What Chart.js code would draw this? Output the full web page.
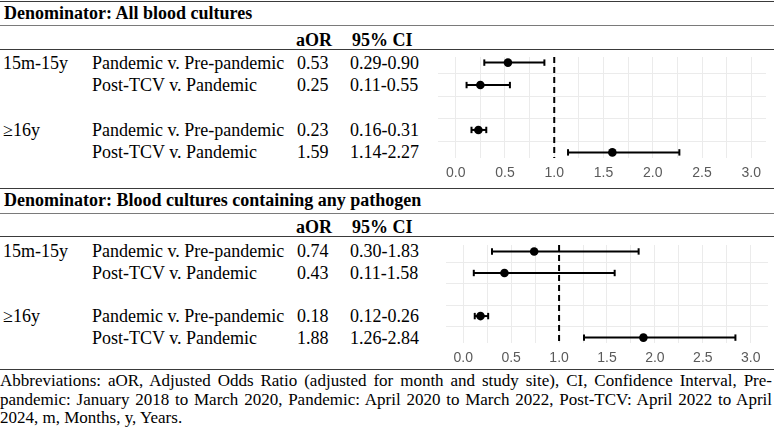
<!DOCTYPE html>
<html><head><meta charset="utf-8">
<script src="https://cdn.jsdelivr.net/npm/chart.js@4"></script>
<style>
html,body{margin:0;padding:0;background:#fff;}
body{width:782px;height:432px;position:relative;overflow:hidden;color:#000;}
.t{position:absolute;white-space:nowrap;font-family:"Liberation Serif","Times New Roman","DejaVu Serif",serif;font-size:18px;line-height:20px;height:20px;}
.b{font-weight:bold;}
.rule{position:absolute;left:0;width:774px;height:0;border-top:1.5px solid #3a3a3a;}
.rule.light{border-top-color:#7a7a7a;}
.cv{position:absolute;}
.foot{position:absolute;left:0;width:772px;font-family:"Liberation Serif","Times New Roman","DejaVu Serif",serif;font-size:17px;line-height:18px;height:18px;text-align:justify;text-align-last:justify;}
.foot.last{text-align-last:left;}
</style>
</head><body>
<div id="root"></div>
<canvas id="c1" class="cv" width="330" height="127" style="left:438px;top:57px;width:330px;height:127px;"></canvas>
<canvas id="c2" class="cv" width="322" height="124" style="left:446px;top:245px;width:322px;height:124px;"></canvas>
<script>
// ---- data ----
const sectionTitles = ["Denominator: All blood cultures", "Denominator: Blood cultures containing any pathogen"];
const columnHeaders = ["aOR", "95% CI"];
const ageGroups = ["15m-15y", "", "\u226516y", ""];
const comparisons = ["Pandemic v. Pre-pandemic", "Post-TCV v. Pandemic", "Pandemic v. Pre-pandemic", "Post-TCV v. Pandemic"];
const rowPositions = [1, 2, 4, 5];
const allAOR = [0.53, 0.25, 0.23, 1.59];
const allLower = [0.29, 0.11, 0.16, 1.14];
const allUpper = [0.90, 0.55, 0.31, 2.27];
const pathAOR = [0.74, 0.43, 0.18, 1.88];
const pathLower = [0.30, 0.11, 0.12, 1.26];
const pathUpper = [1.83, 1.58, 0.26, 2.84];
const xTickLabels = [0, 0.5, 1, 1.5, 2, 2.5, 3];
const xGrid = [0, 0.25, 0.5, 0.75, 1, 1.25, 1.5, 1.75, 2, 2.25, 2.5, 2.75, 3];
const yGrid = [1.5, 2.5, 3.5, 4.5];
const referenceLine = 1;
const footnoteLines = [
  "Abbreviations: aOR, Adjusted Odds Ratio (adjusted for month and study site), CI, Confidence Interval, Pre-",
  "pandemic: January 2018 to March 2020, Pandemic: April 2020 to March 2022, Post-TCV: April 2022 to April",
  "2024, m, Months, y, Years."
];

const root = document.getElementById('root');
function addText(txt, x, cy, cls) {
  const d = document.createElement('div');
  d.className = 't' + (cls ? ' ' + cls : '');
  d.textContent = txt;
  d.style.left = x + 'px';
  d.style.top = (cy - 10) + 'px';
  root.appendChild(d);
}
function addRule(y, light) {
  const d = document.createElement('div');
  d.className = 'rule' + (light ? ' light' : '');
  d.style.top = (y - 0.75) + 'px';
  root.appendChild(d);
}

function makeChart(id, aor, lo, hi, xr, yr) {
  const datasets = [];
  datasets.push({
    type: 'scatter',
    data: aor.map((v, i) => ({x: v, y: rowPositions[i]})),
    pointRadius: 4.3, pointBackgroundColor: '#000', pointBorderColor: '#000', pointBorderWidth: 0,
    order: 0
  });
  rowPositions.forEach((r, i) => {
    datasets.push({
      type: 'line',
      data: [{x: lo[i], y: r}, {x: hi[i], y: r}],
      borderColor: '#000', borderWidth: 2, showLine: true,
      pointStyle: 'line', rotation: 90, pointRadius: 3.2,
      pointBorderWidth: 2, pointBorderColor: '#000', pointBackgroundColor: '#000',
      order: 1
    });
  });
  datasets.push({
    type: 'line',
    data: [{x: referenceLine, y: yr[0]}, {x: referenceLine, y: yr[1]}],
    borderColor: '#000', borderWidth: 2, borderDash: [6, 4], pointRadius: 0,
    order: 2
  });
  return new Chart(document.getElementById(id), {
    type: 'scatter',
    data: {datasets},
    options: {
      responsive: false, animation: false, maintainAspectRatio: false,
      layout: {padding: 0, autoPadding: false},
      plugins: {legend: {display: false}, tooltip: {enabled: false}},
      scales: {
        x: {
          type: 'linear', min: xr[0], max: xr[1],
          afterBuildTicks: s => { s.ticks = xGrid.map(v => ({value: v})); },
          afterFit: s => { s.height = 26; },
          grid: {color: '#ebebeb', lineWidth: 1, drawTicks: false},
          border: {display: false},
          ticks: {
            autoSkip: false, maxRotation: 0, padding: 7, color: '#5a5a5a',
            font: {family: 'Liberation Sans', size: 14},
            callback: v => xTickLabels.includes(v) ? v.toFixed(1) : ''
          }
        },
        y: {
          type: 'linear', reverse: true, min: yr[0], max: yr[1],
          afterBuildTicks: s => { s.ticks = yGrid.map(v => ({value: v})); },
          afterFit: s => { s.width = 0; },
          grid: {color: '#ebebeb', lineWidth: 1, drawTicks: false},
          border: {display: false},
          ticks: {display: false}
        }
      }
    }
  });
}

const ch1 = makeChart('c1', allAOR, allLower, allUpper, [-0.18, 3.15], [0.75, 5.25]);
const ch2 = makeChart('c2', pathAOR, pathLower, pathUpper, [-0.18, 3.18], [0.7, 5.25]);

function buildSection(chart, canvasTop, idx, titleY, headerY, aor, lo, hi) {
  addText(sectionTitles[idx], 4, titleY, 'b');
  addText(columnHeaders[0], 296, headerY, 'b');
  addText(columnHeaders[1], 352, headerY, 'b');
  const ys = chart.scales.y;
  rowPositions.forEach((r, i) => {
    const cy = canvasTop + ys.getPixelForValue(r);
    if (ageGroups[i]) addText(ageGroups[i], 3, cy);
    addText(comparisons[i], 92, cy);
    addText(aor[i].toFixed(2), 297, cy);
    addText(lo[i].toFixed(2) + '-' + hi[i].toFixed(2), 350, cy);
  });
}
buildSection(ch1, 57, 0, 13, 40, allAOR, allLower, allUpper);
buildSection(ch2, 245, 1, 200, 227, pathAOR, pathLower, pathUpper);

addRule(1.5, false);
addRule(26, true);
addRule(50, false);
addRule(189, false);
addRule(214, true);
addRule(237, false);
addRule(370, false);

footnoteLines.forEach((ln, i) => {
  const d = document.createElement('div');
  d.className = 'foot' + (i === footnoteLines.length - 1 ? ' last' : '');
  d.textContent = ln;
  d.style.top = (372 + i * 18.5) + 'px';
  root.appendChild(d);
});
</script>
</body></html>
